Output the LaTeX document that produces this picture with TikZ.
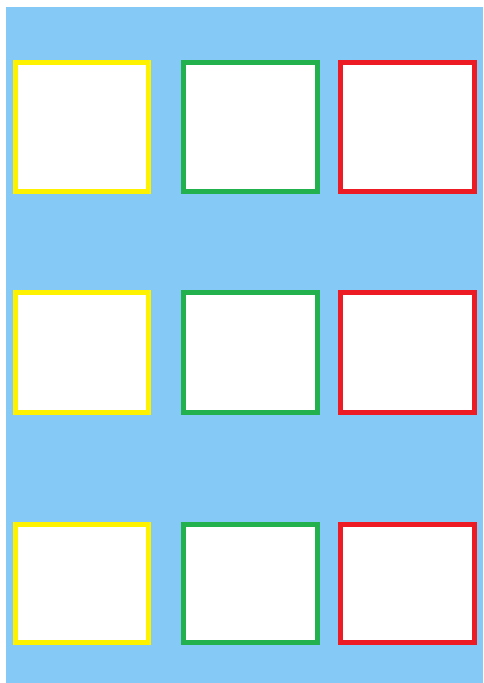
\documentclass[tikz,border=0pt]{standalone}
\usepackage{xcolor}
\definecolor{sky-bg}{HTML}{85C9F6}
\definecolor{box-yellow}{HTML}{FFF200}
\definecolor{box-green}{HTML}{22B14C}
\definecolor{box-red}{HTML}{ED1C24}

\begin{document}
\begin{tikzpicture}[x=1pt, y=-1pt,
      cell/.style={draw, line width=5pt, fill=white, inner sep=0pt}]
    \useasboundingbox (0,0) rectangle (483,683);
    \fill[white] (0,0) rectangle (483,683);
    \fill[sky-bg] (6,7) rectangle (483,683);
    % top row
    \node[cell, draw=box-yellow, minimum width=133pt, minimum height=129pt] (Y1) at (82,127) {};
    \node[cell, draw=box-green,  minimum width=134pt, minimum height=129pt] (G1) at (250.5,127) {};
    \node[cell, draw=box-red,    minimum width=134pt, minimum height=129pt] (R1) at (407.5,127) {};
    % middle row
    \node[cell, draw=box-yellow, minimum width=133pt, minimum height=120pt] (Y2) at (82,352.5) {};
    \node[cell, draw=box-green,  minimum width=134pt, minimum height=120pt] (G2) at (250.5,352.5) {};
    \node[cell, draw=box-red,    minimum width=134pt, minimum height=120pt] (R2) at (407.5,352.5) {};
    % bottom row
    \node[cell, draw=box-yellow, minimum width=133pt, minimum height=118pt] (Y3) at (82,583.5) {};
    \node[cell, draw=box-green,  minimum width=134pt, minimum height=118pt] (G3) at (250.5,583.5) {};
    \node[cell, draw=box-red,    minimum width=134pt, minimum height=118pt] (R3) at (407.5,583.5) {};
  \end{tikzpicture}
\end{document}
